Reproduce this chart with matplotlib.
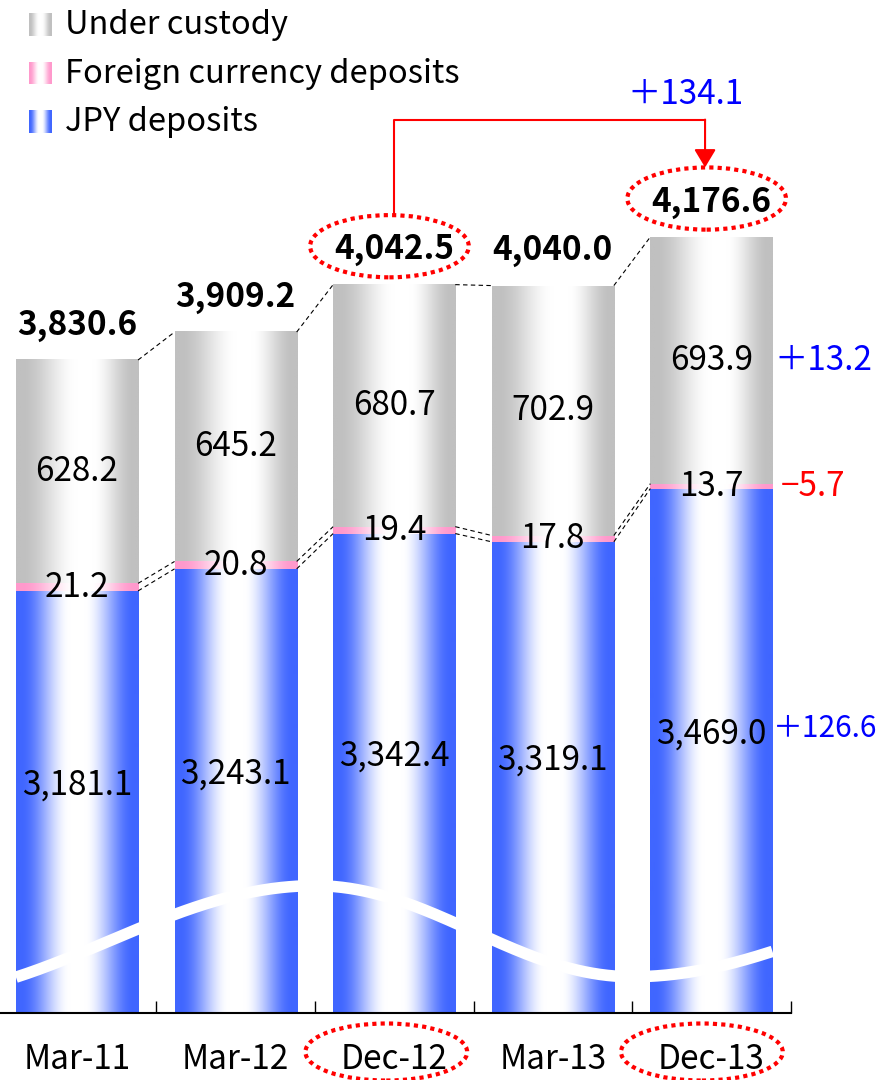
import numpy as np
import matplotlib
matplotlib.use('Agg')
import matplotlib.pyplot as plt
import matplotlib.transforms as mtransforms
from matplotlib.patches import Ellipse
from matplotlib.colors import to_rgb

plt.rcParams['font.family'] = ['Noto Sans CJK JP', 'DejaVu Sans']

# data (JPY bn)
periods = ['Mar-11', 'Mar-12', 'Dec-12', 'Mar-13', 'Dec-13']
jpy = [3181.1, 3243.1, 3342.4, 3319.1, 3469.0]
fx = [21.2, 20.8, 19.4, 17.8, 13.7]
custody = [628.2, 645.2, 680.7, 702.9, 693.9]
totals = [3830.6, 3909.2, 4042.5, 4040.0, 4176.6]
highlight = [2, 4]   # Dec-12 -> Dec-13

BLUE = '#4066FF'
PINK = '#FF99CC'
GRAY = '#C0C0C0'
FS = 24
BAR_W = 0.77
Y_MIN, Y_MAX = 1994, 4843


def gradient(color, center=0.5, n=256):
    t = np.linspace(0, 1, n)
    d = np.where(t < center, (center - t) / center, (t - center) / (1 - center))
    w = np.clip((0.92 - d) / 0.8, 0, 1)
    w = w * w * (3 - 2 * w)
    c = np.array(to_rgb(color))
    rgb = c[None, :] * (1 - w[:, None]) + w[:, None]
    return rgb[None, :, :]


def fmt_diff(v):
    return ('＋' if v >= 0 else '−') + f'{abs(v):,.1f}'


fig = plt.figure(figsize=(8.85, 10.8), dpi=100)
ax = fig.add_axes([0, 67 / 1080, 1, 1013 / 1080])

x = np.arange(len(periods))
jpy_a = np.array(jpy)
fx_top = jpy_a + np.array(fx)
tot_a = fx_top + np.array(custody)

bars_j = ax.bar(x, jpy, width=BAR_W, color='none', linewidth=0)
bars_f = ax.bar(x, fx, bottom=jpy_a, width=BAR_W, color='none', linewidth=0)
bars_c = ax.bar(x, custody, bottom=fx_top, width=BAR_W, color='none', linewidth=0)

for cont, col, cen in [(bars_j, BLUE, 0.5), (bars_f, PINK, 0.55), (bars_c, GRAY, 0.57)]:
    g = gradient(col, cen)
    for p in cont.patches:
        ax.imshow(g, extent=[p.get_x(), p.get_x() + p.get_width(),
                             p.get_y(), p.get_y() + p.get_height()],
                  aspect='auto', interpolation='bilinear', zorder=1)

# dashed connectors between neighbouring bars
for i in range(len(x) - 1):
    x0, x1 = x[i] + BAR_W / 2, x[i + 1] - BAR_W / 2
    for arr in (tot_a, fx_top, jpy_a):
        ax.plot([x0, x1], [arr[i], arr[i + 1]], color='black', lw=0.8,
                dashes=(4, 3), zorder=2)

# white wave marking the broken axis
def ease(x0, y0, x1, y1, xx):
    t = (xx - x0) / (x1 - x0)
    return y0 + (y1 - y0) * (1 - np.cos(np.pi * t)) / 2

wx = np.linspace(x[0] - BAR_W / 2, x[-1] + BAR_W / 2, 400)
wy = np.where(wx < 1.5, ease(-1.1, 2040, 1.5, 2352, wx),
              np.where(wx < 3.5, ease(1.5, 2352, 3.5, 2096, wx),
                       ease(3.5, 2096, 6.0, 2352, wx)))
ax.plot(wx, wy, color='white', lw=8.3, solid_capstyle='butt', zorder=3)

# value labels
for i in range(len(x)):
    ax.text(x[i], (jpy[i] + 2090) / 2, f'{jpy[i]:,.1f}', ha='center', va='center',
            fontsize=FS, zorder=5)
    ax.text(x[i], jpy[i] + fx[i] / 2, f'{fx[i]:,.1f}', ha='center', va='center',
            fontsize=FS, zorder=5)
    ax.text(x[i], fx_top[i] + custody[i] / 2, f'{custody[i]:,.1f}', ha='center',
            va='center', fontsize=FS, zorder=5)
    ax.text(x[i], totals[i] + 98, f'{totals[i]:,.1f}', ha='center', va='center',
            fontsize=FS, fontweight='bold', zorder=5)

# change Dec-12 -> Dec-13
a, b = highlight
ax.text(x[b] + 0.395, fx_top[b] + custody[b] / 2, fmt_diff(custody[b] - custody[a]),
        color='blue', ha='left', va='center', fontsize=FS)
ax.text(x[b] + 0.44, jpy[b] + fx[b] / 2, fmt_diff(fx[b] - fx[a]),
        color='red', ha='left', va='center', fontsize=FS)
ax.text(x[b] + 0.39, (jpy[b] + 2090) / 2 + 15, fmt_diff(jpy[b] - jpy[a]),
        color='blue', ha='left', va='center', fontsize=21.5)

ell_h = 175
for i in highlight:
    ax.add_patch(Ellipse((x[i] - 0.03, totals[i] + 108), 1.0, ell_h, fill=False,
                         ec='red', lw=3, ls=(0, (1, 1)), zorder=6))

rail = max(totals) + 330
top_a = totals[a] + 108 + ell_h / 2
top_b = totals[b] + 108 + ell_h / 2
ax.plot([x[a], x[a], x[b] - 0.04], [top_a, rail, rail], color='red', lw=1.5,
        zorder=6)
ax.annotate('', xy=(x[b] - 0.04, top_b), xytext=(x[b] - 0.04, rail),
            arrowprops=dict(arrowstyle='-|>,head_length=0.55,head_width=0.33',
                            color='red', lw=1.5, mutation_scale=20,
                            shrinkA=0, shrinkB=0), zorder=6)
ax.text(x[b] - 0.53, rail + 70, fmt_diff(totals[b] - totals[a]), color='blue',
        ha='left', va='center', fontsize=FS)

# axes
ax.set_xlim(-77 / 158.6, 808 / 158.6)
ax.set_ylim(Y_MIN, Y_MAX)
ax.yaxis.set_visible(False)
for s in ('top', 'left', 'right'):
    ax.spines[s].set_visible(False)
ax.spines['bottom'].set_bounds(-0.5, 4.5)
ax.spines['bottom'].set_linewidth(1.5)
ax.set_xticks(x, periods)
ax.set_xticks(x + 0.5, minor=True)
ax.tick_params(axis='x', which='major', length=0, pad=21, labelsize=FS)
ax.tick_params(axis='x', which='minor', direction='in', length=8.6, width=1)

trans = mtransforms.blended_transform_factory(ax.transData, ax.transAxes)
for i, cx in zip(highlight, [-0.05, -0.06]):
    ax.add_patch(Ellipse((x[i] + cx, -0.0385), 1.02, 0.0563, transform=trans,
                         fill=False, ec='red', lw=3, ls=(0, (1, 1)), clip_on=False))

# legend
legend = [('Under custody', GRAY), ('Foreign currency deposits', PINK),
          ('JPY deposits', BLUE)]
for k, (name, col) in enumerate(legend):
    top = 13 + k * 48.5
    sw = fig.add_axes([29 / 885, 1 - (top + 23) / 1080, 23 / 885, 23 / 1080])
    sw.imshow(gradient(col, 0.5), aspect='auto', interpolation='bilinear')
    sw.axis('off')
    fig.text(65 / 885, 1 - (top + 12) / 1080, name, ha='left', va='center',
             fontsize=23.5)

fig.savefig('out.png', dpi=100)
